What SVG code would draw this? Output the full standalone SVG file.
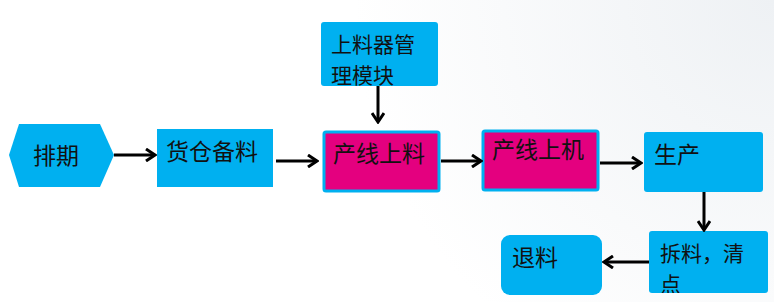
<svg xmlns="http://www.w3.org/2000/svg" width="774" height="302" viewBox="0 0 774 302">
<defs>
<marker id="ah" markerWidth="12" markerHeight="14" refX="10" refY="7" orient="auto" markerUnits="userSpaceOnUse">
<polyline points="1,1 10,7 1,13" fill="none" stroke="#000" stroke-width="3"/>
</marker>
<clipPath id="clipChai"><rect x="649" y="231" width="119" height="62"/></clipPath>
<radialGradient id="bg" cx="774" cy="0" r="420" gradientUnits="userSpaceOnUse">
<stop offset="0" stop-color="#eef1f4"/>
<stop offset="1" stop-color="#ffffff"/>
</radialGradient>
</defs>
<style>
.blue{fill:#00B0F0}
.mag{fill:#E4007F;stroke:#00B0F0;stroke-width:3}
.t{font-family:"Noto Sans CJK SC","Noto Sans",sans-serif;font-size:23px;fill:#111}
.t2{font-family:"Noto Sans CJK SC","Noto Sans",sans-serif;font-size:21px;fill:#111}
.c{stroke:#000;stroke-width:3;fill:none;marker-end:url(#ah)}
</style>
<rect width="774" height="302" fill="url(#bg)"/>
<g id="paiqi">
<polygon class="blue" points="9,155 19,124 100,124 114,155 100,187 19,187"/>
<text class="t" x="33" y="164">排期</text>
</g>
<g id="huocang">
<rect class="blue" x="157" y="129" width="116" height="58"/>
<text class="t" x="166" y="160">货仓备料</text>
</g>
<g id="shangliaoqi">
<rect class="blue" x="321" y="22" width="117" height="64" rx="3"/>
<text class="t2" x="331" y="52">上料器管<tspan x="331" dy="31">理模块</tspan></text>
</g>
<g id="chanxianshangliao">
<rect class="mag" x="324" y="132" width="115" height="59" rx="2"/>
<text class="t" x="333" y="162">产线上料</text>
</g>
<g id="chanxianshangji">
<rect class="mag" x="483" y="131" width="115" height="59" rx="2"/>
<text class="t" x="492" y="158">产线上机</text>
</g>
<g id="shengchan">
<rect class="blue" x="644" y="132" width="119" height="60" rx="3"/>
<text class="t" x="654" y="163">生产</text>
</g>
<g id="chailiao">
<rect class="blue" x="649" y="231" width="119" height="62" rx="3"/>
<text class="t2" x="660" y="261" clip-path="url(#clipChai)">拆料，清<tspan x="660" dy="31">点</tspan></text>
</g>
<g id="tuiliao">
<rect class="blue" x="501" y="235" width="101" height="60" rx="9"/>
<text class="t" x="512" y="266">退料</text>
</g>
<g id="connectors">
<line class="c" x1="114" y1="155" x2="155" y2="155"/>
<line class="c" x1="276" y1="161" x2="317" y2="161"/>
<line class="c" x1="378" y1="86" x2="378" y2="122"/>
<line class="c" x1="441" y1="161" x2="481" y2="161"/>
<line class="c" x1="600" y1="163" x2="641" y2="163"/>
<line class="c" x1="704" y1="192" x2="704" y2="230"/>
<line class="c" x1="649" y1="262" x2="604" y2="262"/>
</g>
</svg>
